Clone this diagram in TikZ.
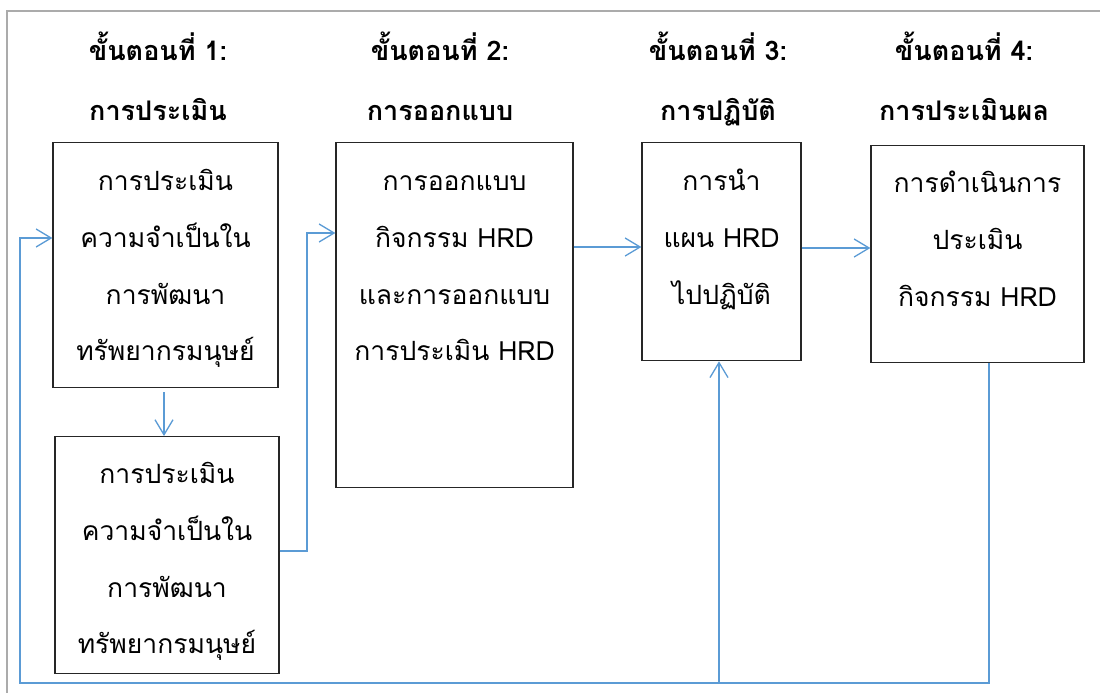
\documentclass[tikz,border=0pt]{standalone}
\usepackage{fontspec}
\setmainfont[Script=Thai]{Loma}
\usetikzlibrary{arrows.meta}
\definecolor{arrowblue}{HTML}{5B9BD5}
\definecolor{framegray}{HTML}{ABABAB}

\begin{document}
\begin{tikzpicture}[x=1pt, y=-1pt,
		head/.style={font=\bfseries\fontsize{27}{60}\selectfont, text width=230pt, align=center, anchor=base, inner sep=0pt},
		box/.style={draw=black!85, line width=1.3pt, font=\fontsize{26.5}{56.7}\selectfont, align=center, anchor=north, inner sep=0pt, text height=48pt},
		flow/.style={draw=arrowblue, line width=1.3pt, -{Straight Barb[length=15pt, width=18pt]}}]
		\useasboundingbox (0,0) rectangle (1100,693);
		\draw[framegray, line width=2pt] (1100,11) -| (7,693);
		\node[head] at (158,60) (h1) {ขั้นตอนที่ 1:\\ การประเมิน};
		\node[head] at (440,60) (h2) {ขั้นตอนที่ 2:\\ การออกแบบ};
		\node[head] at (718,60) (h3) {ขั้นตอนที่ 3:\\ การปฏิบัติ};
		\node[head] at (964,60) (h4) {ขั้นตอนที่ 4:\\ การประเมินผล};
		\node[box, text width=225pt, text depth=197pt] at (165.5,142) (assess) {การประเมิน\\ ความจำเป็นใน\\ การพัฒนา\\ ทรัพยากรมนุษย์};
		\node[box, text width=224pt, text height=47pt, text depth=190pt] at (167,436) (assess2) {การประเมิน\\ ความจำเป็นใน\\ การพัฒนา\\ ทรัพยากรมนุษย์};
		\node[box, text width=237pt, text depth=297pt] at (454.5,142) (design) {การออกแบบ\\ กิจกรรม HRD\\ และการออกแบบ\\ การประเมิน HRD};
		\node[box, text width=159pt, text depth=170pt] at (721.5,142) (implement) {การนำ\\ แผน HRD\\ ไปปฏิบัติ};
		\node[box, text width=213pt, text height=47pt, text depth=170pt] at (977.5,145) (evaluate) {การดำเนินการ\\ ประเมิน\\ กิจกรรม HRD};
		\draw[flow] ([yshift=-4pt]assess.south -| 164,0) -- (assess2.north -| 164,0);
		\draw[flow] (assess2.east |- 0,551) -| (307,233) -- (design.west |- 0,233);
		\draw[flow] (design.east |- 0,247) -- (implement.west |- 0,247);
		\draw[flow] (implement.east |- 0,248) -- (evaluate.west |- 0,248);
		\draw[flow] (evaluate.south -| 989,0) |- (20,683) |- (assess.west |- 0,238);
		\draw[flow] (719,683) -- (implement.south -| 719,0);
	\end{tikzpicture}
\end{document}
